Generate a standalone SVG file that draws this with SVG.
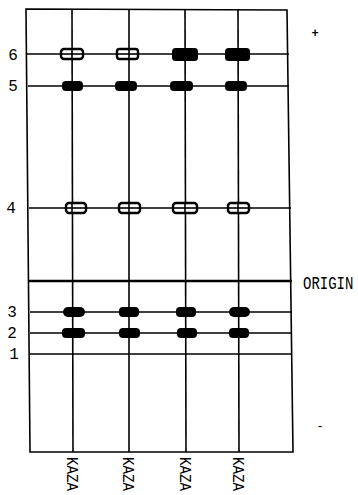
<svg xmlns="http://www.w3.org/2000/svg" width="358" height="495" viewBox="0 0 358 495">
<style>
.ln{stroke:#000;stroke-width:1.6;fill:none}
.org{stroke:#000;stroke-width:2.6;fill:none}
.f{fill:#000}
.h{fill:#fff;stroke:#000;stroke-width:2.4}
.t{font-family:"Liberation Mono","DejaVu Sans Mono",monospace;fill:#000}
</style>
<rect width="358" height="495" fill="#fff"/>
<g id="frame">
<polygon class="ln" points="26,9 287,10 293,452 30,452"/>
</g>
<g id="connectors">
<line class="ln" x1="72" y1="9" x2="73" y2="452"/>
<line class="ln" x1="129" y1="9" x2="129" y2="452"/>
<line class="ln" x1="185" y1="9" x2="186" y2="452"/>
<line class="ln" x1="238" y1="9" x2="239" y2="452"/>
<line class="ln" x1="27" y1="54" x2="289" y2="54"/>
<line class="ln" x1="28" y1="86" x2="289" y2="86"/>
<line class="ln" x1="29" y1="208" x2="291" y2="208"/>
<line class="org" x1="29" y1="281" x2="292" y2="281"/>
<line class="ln" x1="30" y1="312" x2="292" y2="312"/>
<line class="ln" x1="30" y1="333" x2="292" y2="333"/>
<line class="ln" x1="30" y1="354" x2="292" y2="354"/>
</g>
<g id="row6">
<rect class="h" x="61" y="49" width="22" height="10" rx="3"/><line class="ln" x1="61" y1="54" x2="83" y2="54"/><line class="ln" x1="72" y1="49" x2="72" y2="59"/>
<rect class="h" x="117" y="49" width="21" height="10" rx="2.5"/><line class="ln" x1="117" y1="54" x2="138" y2="54"/><line class="ln" x1="129" y1="49" x2="129" y2="59"/>
<rect class="f" x="172" y="48" width="26" height="13" rx="3.5"/>
<rect class="f" x="225" y="48" width="25" height="13" rx="3.5"/>
</g>
<g id="row5">
<rect class="f" x="62" y="81" width="21" height="10" rx="4"/>
<rect class="f" x="115" y="81" width="22" height="10" rx="4"/>
<rect class="f" x="170" y="81" width="23" height="10" rx="4"/>
<rect class="f" x="225" y="81" width="22" height="10" rx="4"/>
</g>
<g id="row4">
<rect class="h" x="66" y="203" width="20" height="10" rx="3"/><line class="ln" x1="66" y1="208" x2="86" y2="208"/><line class="ln" x1="72" y1="203" x2="72" y2="213"/>
<rect class="h" x="119" y="203" width="21" height="10" rx="3"/><line class="ln" x1="119" y1="208" x2="140" y2="208"/><line class="ln" x1="129" y1="203" x2="129" y2="213"/>
<rect class="h" x="173" y="203" width="24" height="10" rx="3"/><line class="ln" x1="173" y1="208" x2="197" y2="208"/><line class="ln" x1="185" y1="203" x2="185" y2="213"/>
<rect class="h" x="228" y="203" width="21" height="10" rx="3"/><line class="ln" x1="228" y1="208" x2="249" y2="208"/><line class="ln" x1="238" y1="203" x2="238" y2="213"/>
</g>
<g id="row3">
<rect class="f" x="63" y="307" width="22" height="10" rx="5"/>
<rect class="f" x="119" y="307" width="20" height="10" rx="4"/>
<rect class="f" x="176" y="307" width="20" height="10" rx="4"/>
<rect class="f" x="229" y="307" width="21" height="10" rx="5"/>
</g>
<g id="row2">
<rect class="f" x="62" y="328" width="23" height="10" rx="4"/>
<rect class="f" x="119" y="328" width="21" height="10" rx="4"/>
<rect class="f" x="177" y="328" width="20" height="10" rx="4"/>
<rect class="f" x="229" y="328" width="20" height="10" rx="4"/>
</g>
<g id="labels">
<text class="t" x="13" y="60" font-size="16" text-anchor="middle">6</text>
<text class="t" x="13" y="91" font-size="16" text-anchor="middle">5</text>
<text class="t" x="11" y="213" font-size="16" text-anchor="middle">4</text>
<text class="t" x="12" y="317" font-size="16" text-anchor="middle">3</text>
<text class="t" x="12" y="338" font-size="16" text-anchor="middle">2</text>
<text class="t" x="14" y="359" font-size="16" text-anchor="middle">1</text>
<text class="t" font-size="14" transform="translate(303,289) scale(1,1.3)">ORIGIN</text>
<text class="t" x="315" y="37" font-size="12" font-weight="bold" text-anchor="middle">+</text>
<text class="t" x="320" y="430" font-size="12" text-anchor="middle">-</text>
<text class="t" font-size="16" textLength="34" lengthAdjust="spacingAndGlyphs" transform="translate(67,457) rotate(90)">KAZA</text>
<text class="t" font-size="16" textLength="34" lengthAdjust="spacingAndGlyphs" transform="translate(123,457) rotate(90)">KAZA</text>
<text class="t" font-size="16" textLength="34" lengthAdjust="spacingAndGlyphs" transform="translate(180,457) rotate(90)">KAZA</text>
<text class="t" font-size="16" textLength="34" lengthAdjust="spacingAndGlyphs" transform="translate(233,457) rotate(90)">KAZA</text>
</g>
</svg>
